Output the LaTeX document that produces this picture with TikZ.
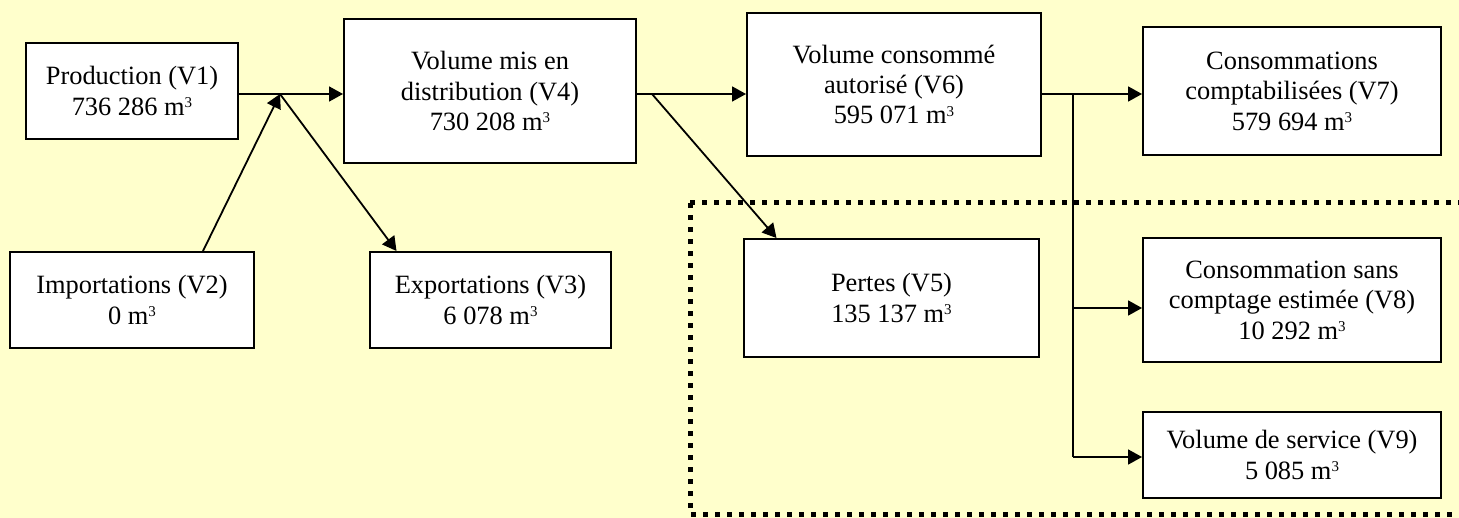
\documentclass[tikz,border=0pt]{standalone}
\usepackage{fontspec}
\setmainfont{Liberation Serif}
\usetikzlibrary{arrows.meta,calc}
\definecolor{bgyellow}{HTML}{FFFFCC}
\newcommand{\cubm}{m\raisebox{0.62ex}{\fontsize{7.5}{7.5}\selectfont 3}}
\tikzset{
  box/.style={draw=black, line width=1pt, fill=white, rectangle, align=center,
    inner sep=0pt, font=\rmfamily\fontsize{13.2}{15.2}\selectfont},
  arr/.style={draw=black, line width=0.9pt, -{Triangle[length=7pt,width=7.5pt]}},
  conn/.style={draw=black, line width=0.9pt},
  dotframe/.style={draw=black, line width=2.5pt, dash pattern=on 2.5pt off 3.5pt}
}
\begin{document}
\begin{tikzpicture}[x=0.5pt,y=-0.5pt]
\useasboundingbox (0,0) rectangle (1459,518);
\fill[bgyellow] (0,0) rectangle (1459,518);

% dotted frame
\draw[dotframe] (690,203) -- (1459,203);
\draw[dotframe] (690,203) -- (690,514) -- (1459,514);

% boxes
\node[box, minimum width=106pt, minimum height=48pt] (V1) at (132,91)
  {Production (V1)\\736 286 \cubm};
\node[box, minimum width=122pt, minimum height=48pt] (V2) at (132,300)
  {Importations (V2)\\0 \cubm};
\node[box, minimum width=120.5pt, minimum height=48pt] (V3) at (490.5,300)
  {Exportations (V3)\\6 078 \cubm};
\node[box, minimum width=146pt, minimum height=72pt] (V4) at (490,91)
  {Volume mis en\\distribution (V4)\\730 208 \cubm};
\node[box, minimum width=147.5pt, minimum height=59pt] (V5) at (891.5,298)
  {Pertes (V5)\\135 137 \cubm};
\node[box, minimum width=147pt, minimum height=71.5pt] (V6) at (894,84.5)
  {Volume consommé\\autorisé (V6)\\595 071 \cubm};
\node[box, minimum width=149pt, minimum height=64pt] (V7) at (1292,91)
  {Consommations\\comptabilisées (V7)\\579 694 \cubm};
\node[box, minimum width=149pt, minimum height=62pt] (V8) at (1292,300)
  {Consommation sans\\comptage estimée (V8)\\10 292 \cubm};
\node[box, minimum width=149pt, minimum height=43pt] (V9) at (1292,455)
  {Volume de service (V9)\\5 085 \cubm};

% junctions
\coordinate (J1) at (280,94);
\coordinate (J2) at (652,94);
\coordinate (J3) at (1073,94);
\coordinate (J4) at (1073,308);
\coordinate (J5) at (1073,457);

% connectors
\draw[arr] (V1.east |- J1) -- (V4.west |- J1);
\draw[arr] ($(V2.north)+(71,0)$) -- (J1);
\draw[arr] (J1) -- ($(V3.north)+(-94,0)$);
\draw[arr] (V4.east |- J2) -- (V6.west |- J2);
\draw[arr] (J2) -- ($(V5.north)+(-115,0)$);
\draw[arr] (V6.east |- J3) -- (V7.west |- J3);
\draw[conn] (J3) -- (J5);
\draw[arr] (J4) -- (V8.west |- J4);
\draw[arr] (J5) -- (V9.west |- J5);
\end{tikzpicture}
\end{document}
